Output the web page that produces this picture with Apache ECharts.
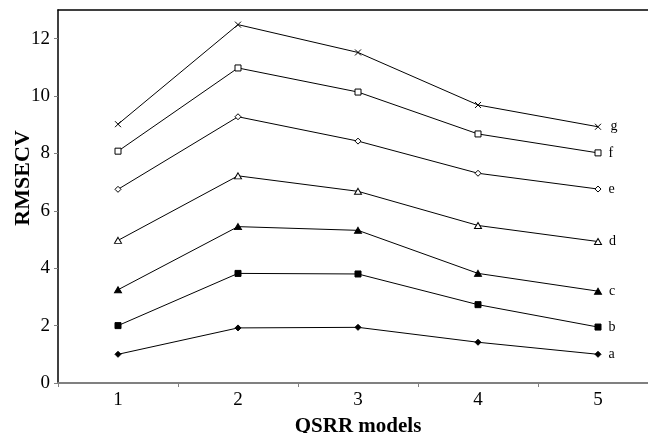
<!DOCTYPE html>
<html><head><meta charset="utf-8">
<script src="https://cdn.jsdelivr.net/npm/echarts@6/dist/echarts.min.js"></script>
<style>html,body{margin:0;padding:0;background:#fff}#c{width:648px;height:433px}</style>
</head><body><div id="c"></div>
<script>
var categories = ['1','2','3','4','5'];
var yTicks = [0,2,4,6,8,10,12];
var seriesNames = ['a','b','c','d','e','f','g'];
var a = [1.00, 1.92, 1.94, 1.42, 1.00];
var b = [2.00, 3.82, 3.80, 2.73, 1.95];
var c = [3.25, 5.45, 5.32, 3.82, 3.20];
var d = [4.97, 7.22, 6.68, 5.49, 4.93];
var e = [6.75, 9.28, 8.43, 7.31, 6.76];
var f = [8.08, 10.98, 10.14, 8.68, 8.02];
var g = [9.02, 12.49, 11.52, 9.69, 8.93];

var FONT = '"Liberation Serif","Times New Roman",serif';
var values = [a,b,c,d,e,f,g];
var symbols = ['diamond','rect','triangle','triangle','diamond','rect','path://M0,0L10,10M10,0L0,10'];
var filled = [true,true,true,false,false,false,false];

var series = values.map(function(v,i){
  return {
    name: seriesNames[i], type:'line', data: v.map(function(y,j){
      var item = {value:y};
      if (j === v.length-1) item.label = {show:true, formatter: seriesNames[i], position:'right', distance:7,
        fontFamily: FONT, fontSize: 14, color:'#000'};
      return item;
    }),
    symbol: symbols[i], symbolSize: i===6 ? 6 : (i===2||i===3 ? [7,6] : 6),
    showAllSymbol: true,
    lineStyle:{color:'#000', width:1},
    itemStyle:{color: i===6 ? 'none' : (filled[i] ? '#000' : '#fff'), borderColor:'#000', borderWidth: 1},
    animation:false, z: 3
  };
});

var chart = echarts.init(document.getElementById('c'), null, {renderer:'canvas'});
chart.setOption({
  backgroundColor:'#fff',
  animation:false,
  grid:{left:58, top:10, right:-10, bottom:50, containLabel:false, outerBoundsMode:'none'},
  xAxis:[{
    type:'category', data: categories, boundaryGap:true,
    name:'QSRR models', nameLocation:'middle', nameGap:33,
    nameTextStyle:{fontFamily:FONT, fontWeight:'bold', fontSize:21, color:'#000'},
    axisLine:{lineStyle:{color:'#808080', width:2}},
    axisTick:{show:true, length:4, inside:false, lineStyle:{color:'#808080', width:1}},
    axisLabel:{fontFamily:FONT, fontSize:19, color:'#000', margin:8},
    splitLine:{show:false}
  },{
    type:'category', data: categories, position:'top',
    axisLine:{show:true, lineStyle:{color:'#000', width:1.5}},
    axisTick:{show:false}, axisLabel:{show:false}, splitLine:{show:false}
  }],
  yAxis:{
    type:'value', min:0, max:13, interval:2,
    axisLine:{show:true, lineStyle:{color:'#000', width:1.5}},
    axisTick:{show:true, length:4, customValues: yTicks, lineStyle:{color:'#808080'}},
    axisLabel:{fontFamily:FONT, fontSize:19, color:'#000', margin:8, customValues: yTicks},
    splitLine:{show:false}
  },
  graphic:[{
    type:'text', x:23, y:178, rotation:Math.PI/2,
    style:{text:'RMSECV', font:'bold 22px '+FONT, fill:'#000', textAlign:'center', textVerticalAlign:'middle'}
  }],
  series: series
});
</script></body></html>
